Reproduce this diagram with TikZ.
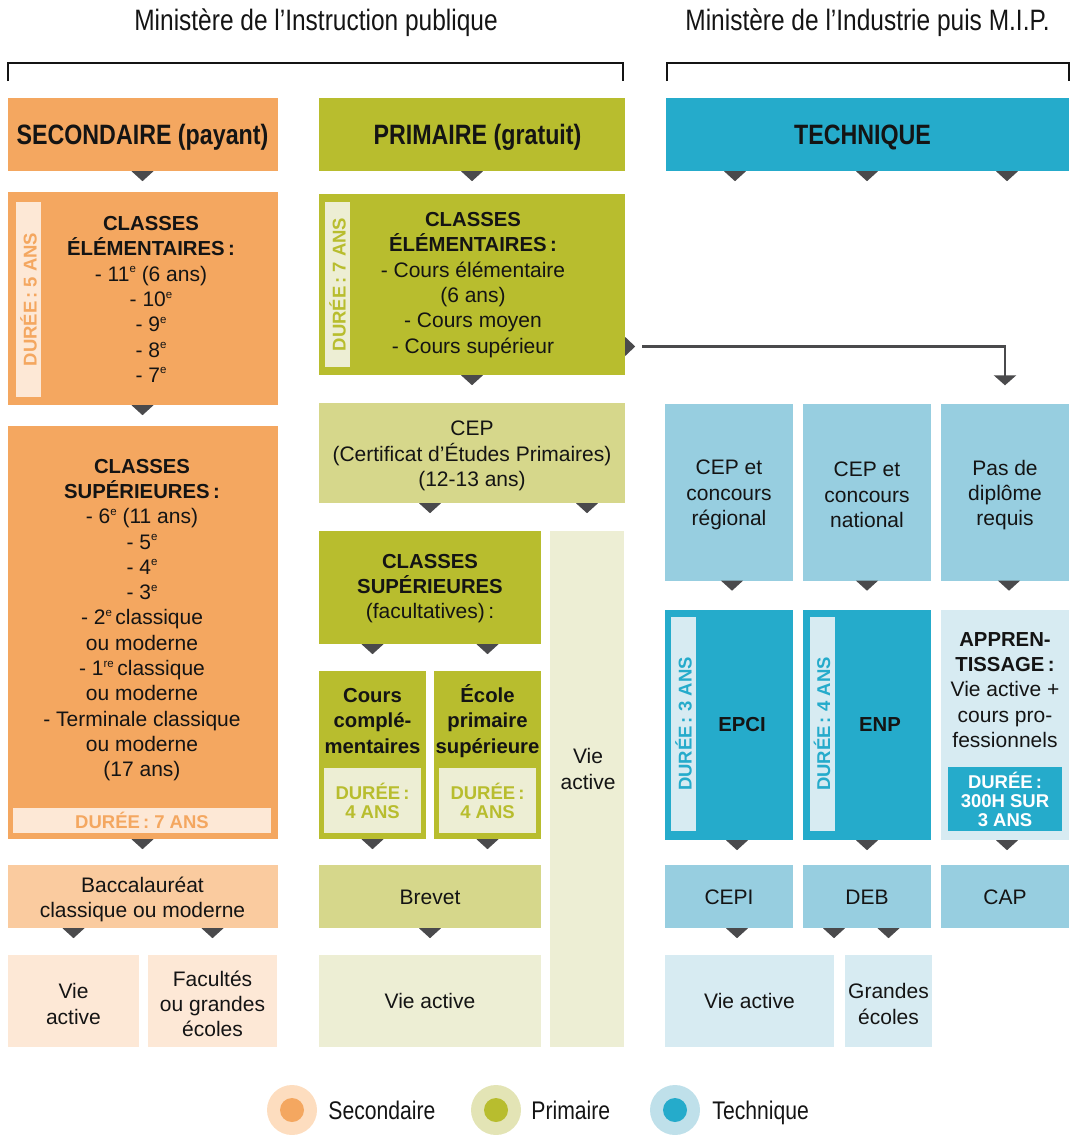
\documentclass[tikz,border=0pt]{standalone}
\usepackage{fontspec}
\setmainfont{Liberation Sans}
\newfontfamily\condfont[FakeStretch=0.83]{Liberation Sans}
\usetikzlibrary{arrows.meta}
\usetikzlibrary{positioning}

\definecolor{secdark}{HTML}{F4A760}
\definecolor{secmid}{HTML}{FACB9F}
\definecolor{seclight}{HTML}{FDE8D6}
\definecolor{secring}{HTML}{FDDDBF}
\definecolor{pridark}{HTML}{B8BD2E}
\definecolor{primid}{HTML}{D6D78B}
\definecolor{prilight}{HTML}{EDEED4}
\definecolor{priring}{HTML}{E3E4B5}
\definecolor{tecdark}{HTML}{25ABCB}
\definecolor{tecmid}{HTML}{97CEE0}
\definecolor{teclight}{HTML}{D7EBF2}
\definecolor{tecring}{HTML}{BFE0EA}
\definecolor{tipgray}{HTML}{4A4A4C}
\definecolor{ink}{HTML}{141414}

\newcommand{\bodyfont}{\fontsize{21}{25.3}\selectfont}
\newcommand{\durfont}{\fontsize{18.5}{19}\selectfont\bfseries}
\newcommand{\gras}[1]{{\fontsize{20.3}{25.3}\selectfont\bfseries #1}}
\newcommand{\expo}[1]{\raisebox{8.5pt}{\fontsize{11.5}{11.5}\selectfont #1}}
\newcommand{\eme}{\expo{e}}
% petit triangle sous un bloc, a l'aplomb de #2
\newcommand{\pointer}[2]{\fill[tipfill] (#1.south -| #2) ++(-11,0) -- ++(22,0) -- ++(-11,10) -- cycle;}

\tikzset{
	bloc/.style = {rectangle, inner sep=0pt, align=center, text=ink,
		font=\bodyfont},% bloc de base
	texte/.style = {inner sep=0pt, align=center, text=ink, font=\bodyfont},% texte d'un bloc
	une/.style = {text height=15pt, text depth=0pt},% une seule ligne
	taille/.style 2 args = {minimum width=#1pt, minimum height=#2pt},% dimensions
	entete/.style = {bloc, text height=20pt, text depth=0pt,
		font=\condfont\bfseries\fontsize{28}{30}\selectfont},% en-tete
	titre/.style = {inner sep=0pt, text=ink, text height=21pt, text depth=0pt,
		font=\condfont\fontsize{29.5}{32}\selectfont},% ministere
	duree/.style = {rectangle, inner sep=0pt, align=center, font=\durfont},% cartouche duree
	duree_v/.style = {duree, rotate=90, minimum height=25pt},% duree verticale
	tipfill/.style = {fill=tipgray},
	fleche/.style = {draw=tipgray, line width=2.5pt,
		-{Triangle[width=22pt,length=10pt]}},
	cercle/.style = {circle, inner sep=0pt},
	legende/.style = {inner sep=0pt, text=ink, text height=18.3pt, text depth=0pt,
		font=\condfont\fontsize{25.5}{28}\selectfont}
}

\begin{document}
\begin{tikzpicture}[x=1pt,y=-1pt]
	\useasboundingbox (0,0) rectangle (1075,1135);

	% ministeres
	\node[titre] (minA) at (316,20) {Ministère de l’Instruction publique};
	\node[titre] (minB) at (867.5,20) {Ministère de l’Industrie puis M.I.P.};
	\draw[ink, line width=1.8pt] (8,81) -- (8,63) -- (623,63) -- (623,81);
	\draw[ink, line width=1.8pt] (667,81) -- (667,63) -- (1069,63) -- (1069,81);

	% secondaire
	\node[entete, fill=secdark, taille={270}{73}] (secH) at (142.5,134.5) {SECONDAIRE (payant)};
	\node[bloc, fill=secdark, taille={270}{213}] (secA) at (142.5,298.5) {};
	\node[texte] (secAt) at (151,299.5) {\gras{CLASSES}\\\gras{ÉLÉMENTAIRES\,:}\\- 11\eme{} (6 ans)\\- 10\eme\\- 9\eme\\- 8\eme\\- 7\eme};
	\node[duree_v, fill=seclight, text=secdark, minimum width=195pt] (secAd) at (28.5,299.5) {DURÉE\,: 5 ANS};
	\node[bloc, fill=secdark, taille={270}{413}] (secB) at (142.5,632.5) {};
	\node[texte] (secBt) at (142,620) {\gras{CLASSES}\\\gras{SUPÉRIEURES\,:}\\- 6\eme{} (11 ans)\\- 5\eme\\- 4\eme\\- 3\eme\\- 2\eme\,classique\\ou moderne\\- 1\expo{re}\,classique\\ou moderne\\- Terminale classique\\ou moderne\\(17 ans)};
	\node[duree, fill=seclight, text=secdark, taille={258}{25}] (secBd) at (142,820.5) {DURÉE\,: 7 ANS};
	\node[bloc, fill=secmid, taille={270}{63}] (bac) at (142.5,896.5) {};
	\node[texte] (bacT) at ([yshift=-3pt]bac.center) {Baccalauréat\\classique ou moderne};
	\node[bloc, fill=seclight, taille={131}{92}] (secV) at (73.5,1001) {};
	\node[texte] (secVt) at ([yshift=-3pt]secV.center) {Vie\\active};
	\node[bloc, fill=seclight, taille={129}{92}] (secF) at (212.5,1001) {};
	\node[texte] (secFt) at ([yshift=-3pt]secF.center) {Facultés\\ou grandes\\écoles};

	% primaire
	\node[entete, fill=pridark, taille={306}{73}] (priH) at (472,134.5) {\hspace*{11pt}PRIMAIRE (gratuit)};
	\node[bloc, fill=pridark, taille={306}{181}] (priA) at (472,284.5) {};
	\node[texte] (priAt) at (473,285) {\gras{CLASSES}\\\gras{ÉLÉMENTAIRES\,:}\\- Cours élémentaire\\(6 ans)\\- Cours moyen\\- Cours supérieur};
	\node[duree_v, fill=prilight, text=pridark, minimum width=165pt] (priAd) at (337.5,284.5) {DURÉE\,: 7 ANS};
	\node[bloc, fill=primid, taille={306}{100}] (cep) at (472,453) {};
	\node[texte] (cept) at ([yshift=-3pt]cep.center) {CEP\\(Certificat d’Études Primaires)\\(12-13 ans)};
	\node[bloc, fill=pridark, taille={222}{113}] (priB) at (430,587.5) {};
	\node[texte] (priBt) at ([yshift=-1pt]priB.center) {\gras{CLASSES}\\\gras{SUPÉRIEURES}\\(facultatives)\,:};
	\node[bloc, fill=prilight, taille={74}{516}] (priV) at (587,789) {};
	\node[texte] (priVt) at (588,769) {Vie\\active};
	\node[bloc, fill=pridark, taille={107}{168}] (priC) at (372.5,755) {};
	\node[texte] (priCt) at (372.5,721) {\gras{Cours}\\\gras{complé-}\\\gras{mentaires}};
	\node[duree, fill=prilight, text=pridark, taille={97}{65}] (priCd) at (372.5,800.5) {DURÉE\,:\\4 ANS};
	\node[bloc, fill=pridark, taille={107}{168}] (priD) at (487.5,755) {};
	\node[texte] (priDt) at (487.5,721) {\gras{École}\\\gras{primaire}\\\gras{supérieure}};
	\node[duree, fill=prilight, text=pridark, taille={97}{65}] (priDd) at (487.5,800.5) {DURÉE\,:\\4 ANS};
	\node[bloc, une, fill=primid, taille={222}{63}] (brevet) at (430,896.5) {Brevet};
	\node[bloc, une, fill=prilight, taille={222}{92}] (priE) at (430,1001) {Vie active};

	% technique
	\node[entete, fill=tecdark, taille={403}{73}] (tecH) at (867.5,134.5) {TECHNIQUE\hspace*{10pt}};
	\node[bloc, fill=tecmid, taille={128}{177}] (tecA) at (729,492) {};
	\node[texte] (tecAt) at ([yshift=-3pt]tecA.center) {CEP et\\concours\\régional};
	\node[bloc, fill=tecmid, taille={128}{177}] (tecB) at (867,492) {};
	\node[texte] (tecBt) at ([yshift=-3pt]tecB.center) {CEP et\\concours\\national};
	\node[bloc, fill=tecmid, taille={128}{177}] (tecC) at (1005,492) {};
	\node[texte] (tecCt) at ([yshift=-3pt]tecC.center) {Pas de\\diplôme\\requis};
	\node[bloc, fill=tecdark, taille={128}{230}] (epci) at (729,725) {};
	\node[texte] (epcit) at (742,725) {\gras{EPCI}};
	\node[duree_v, fill=teclight, text=tecdark, minimum width=214pt] (epcid) at (683.5,724) {DURÉE\,: 3 ANS};
	\node[bloc, fill=tecdark, taille={128}{230}] (enp) at (867,725) {};
	\node[texte] (enpt) at (880,725) {\gras{ENP}};
	\node[duree_v, fill=teclight, text=tecdark, minimum width=214pt] (enpd) at (822,724) {DURÉE\,: 4 ANS};
	\node[bloc, fill=teclight, taille={128}{230}] (appr) at (1005,725) {};
	\node[texte] (apprt) at (1005,690) {\gras{APPREN-}\\\gras{TISSAGE\,:}\\Vie active +\\cours pro-\\fessionnels};
	\node[duree, fill=tecdark, text=white, taille={114}{64}] (apprd) at (1005,799) {DURÉE\,:\\300H SUR\\3 ANS};
	\node[bloc, une, fill=tecmid, taille={128}{63}] (cepi) at (729,896.5) {CEPI};
	\node[bloc, une, fill=tecmid, taille={128}{63}] (deb) at (867,896.5) {DEB};
	\node[bloc, une, fill=tecmid, taille={128}{63}] (cap) at (1005,896.5) {CAP};
	\node[bloc, une, fill=teclight, taille={169}{92}] (tecV) at (749.5,1001) {Vie active};
	\node[bloc, fill=teclight, taille={87}{92}] (tecG) at (888.5,1001) {};
	\node[texte] (tecGt) at ([yshift=-3pt]tecG.center) {Grandes\\écoles};

	% triangles
	\pointer{secH}{secA}
	\pointer{secA}{secB}
	\pointer{secB}{bac}
	\pointer{bac}{secV}
	\pointer{bac}{secF}
	\pointer{priH}{priA}
	\pointer{priA}{cep}
	\pointer{cep}{priB}
	\pointer{cep}{priV}
	\pointer{priB}{priC}
	\pointer{priB}{priD}
	\pointer{priC}{priC}
	\pointer{priD}{priD}
	\pointer{brevet}{priE}
	\pointer{tecH}{735,0}
	\pointer{tecH}{tecB}
	\pointer{tecH}{1007,0}
	\pointer{tecA}{732,0}
	\pointer{tecB}{tecB}
	\pointer{tecC}{1009,0}
	\pointer{epci}{737,0}
	\pointer{enp}{enp}
	\pointer{appr}{1007,0}
	\pointer{cepi}{737,0}
	\pointer{deb}{834,0}
	\pointer{deb}{tecG}

	% passage primaire -> technique
	\fill[tipfill] (priA.east |- 0,346.5) ++(0,-9.5) -- ++(0,19) -- ++(10,-9.5) -- cycle;
	\coordinate (jA) at (642,346.5);
	\draw[fleche] (jA) -| ([yshift=18pt]tecC.north);

	% legende
	\node[cercle, fill=secring, minimum size=50pt] (legS) at (292,1110) {};
	\node[cercle, fill=secdark, minimum size=24pt] (legSc) at (legS) {};
	\node[legende, right=11pt of legS] (legSt) {Secondaire};
	\node[cercle, fill=priring, minimum size=50pt] (legP) at (496,1110) {};
	\node[cercle, fill=pridark, minimum size=24pt] (legPc) at (legP) {};
	\node[legende, right=10pt of legP] (legPt) {Primaire};
	\node[cercle, fill=tecring, minimum size=50pt] (legT) at (675,1110) {};
	\node[cercle, fill=tecdark, minimum size=24pt] (legTc) at (legT) {};
	\node[legende, right=12pt of legT] (legTt) {Technique};
\end{tikzpicture}
\end{document}
